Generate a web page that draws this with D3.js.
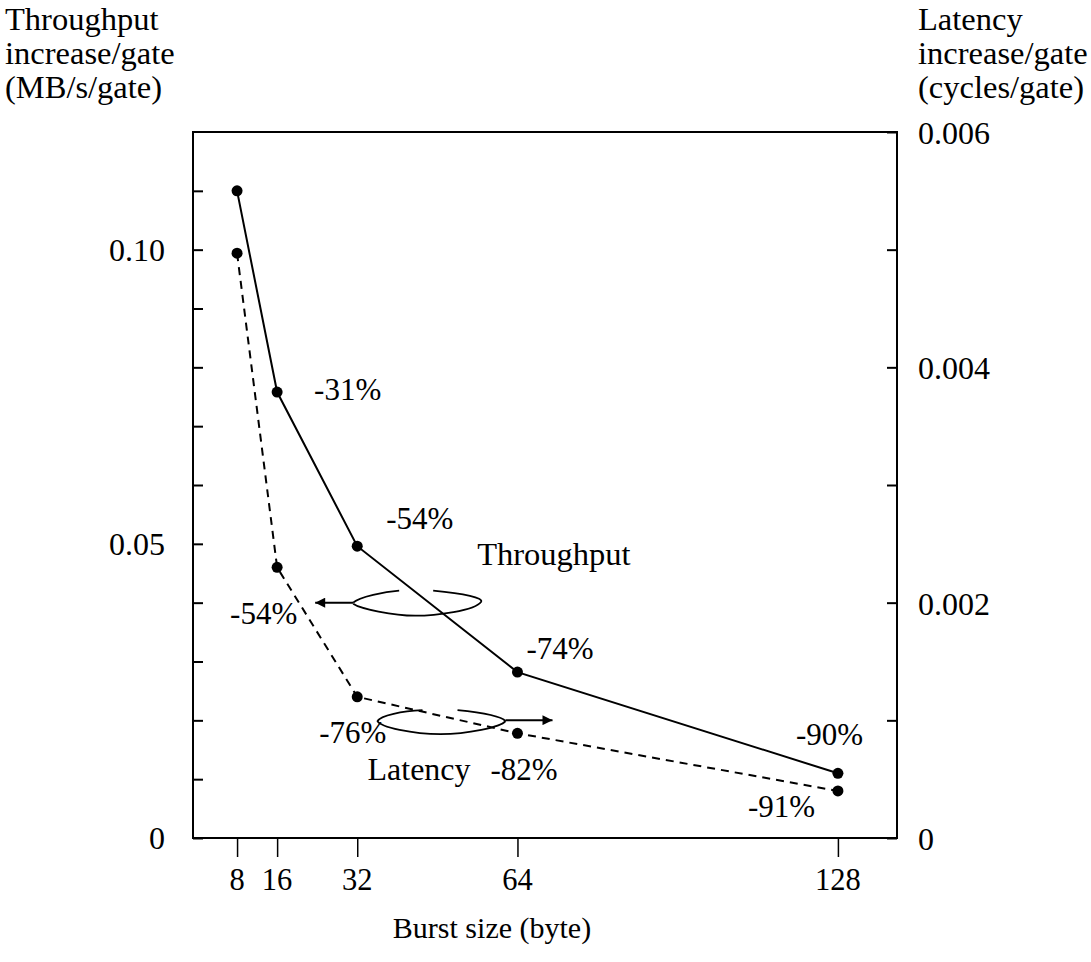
<!DOCTYPE html>
<html>
<head>
<meta charset="utf-8">
<script src="https://cdn.jsdelivr.net/npm/d3@7"></script>
<style>
  body { margin: 0; background: #fff; }
  svg { display: block; }
</style>
</head>
<body>
<svg id="chart" width="1091" height="962"></svg>
<script>
// data
var burstSizes = [8, 16, 32, 64, 128];
var throughput = [0.110, 0.0758, 0.0496, 0.0282, 0.0110];   // MB/s/gate (left)
var latency = [0.00497, 0.0023, 0.0012, 0.00089, 0.0004];    // cycles/gate (right)
var throughputPct = ['', '-31%', '-54%', '-74%', '-90%'];
var latencyPct = ['', '-54%', '-76%', '-82%', '-91%'];
var leftTicks = [0, 0.01, 0.02, 0.03, 0.04, 0.05, 0.06, 0.07, 0.08, 0.09, 0.10, 0.11];
var leftLabels = [0, 0.05, 0.10];
var rightTicks = [0, 0.001, 0.002, 0.003, 0.004, 0.005, 0.006];
var rightLabels = [0, 0.002, 0.004, 0.006];

var box = {left: 193, right: 897, top: 132, bottom: 838};
var font = '"Liberation Serif", "Times New Roman", Times, serif';

var x = d3.scaleLinear().domain([-0.8, 139.8]).range([box.left, box.right]);
var yL = d3.scaleLinear().domain([0, 0.12]).range([box.bottom, box.top]);
var yR = d3.scaleLinear().domain([0, 0.006]).range([box.bottom, box.top]);

var svg = d3.select('#chart');

function label(parent, xPos, yPos, s, size) {
    return parent.append('text')
        .attr('x', xPos).attr('y', yPos)
        .style('font-family', font)
        .style('font-size', (size || 32) + 'px')
        .attr('fill', '#000')
        .text(s);
}

// frame
svg.append('rect')
    .attr('x', box.left).attr('y', box.top)
    .attr('width', box.right - box.left).attr('height', box.bottom - box.top)
    .attr('fill', 'none').attr('stroke', '#000').attr('stroke-width', 2);

// left axis (ticks inside)
svg.append('g')
    .attr('transform', 'translate(' + box.left + ',0)')
    .call(d3.axisRight(yL).tickValues(leftTicks).tickSize(10).tickFormat(''))
    .call(g => g.select('.domain').remove())
    .selectAll('line').attr('stroke-width', 2);
leftLabels.forEach(d => label(svg, 165, yL(d) + 11, d === 0 ? '0' : d3.format('.2f')(d)).attr('text-anchor', 'end'));

// right axis (ticks inside)
svg.append('g')
    .attr('transform', 'translate(' + box.right + ',0)')
    .call(d3.axisLeft(yR).tickValues(rightTicks).tickSize(10).tickFormat(''))
    .call(g => g.select('.domain').remove())
    .selectAll('line').attr('stroke-width', 2);
rightLabels.forEach(d => label(svg, 918, yR(d) + 12, d === 0 ? '0' : d3.format('.3f')(d)));

// bottom axis (ticks outside)
svg.append('g')
    .attr('transform', 'translate(0,' + box.bottom + ')')
    .call(d3.axisBottom(x).tickValues(burstSizes).tickSize(19).tickFormat(''))
    .call(g => g.select('.domain').remove())
    .selectAll('line').attr('stroke-width', 1.5);
burstSizes.forEach(d => label(svg, x(d), 890, d, 30.5).attr('text-anchor', 'middle'));

// axis titles
function multiline(xPos, lines) {
    lines.forEach((s, i) => label(svg, xPos, 29.5 + i * 34, s, 32.5));
}
multiline(5, ['Throughput', 'increase/gate', '(MB/s/gate)']);
multiline(918, ['Latency', 'increase/gate', '(cycles/gate)']);
label(svg, 492, 938, 'Burst size (byte)', 30).attr('text-anchor', 'middle');

// series
var tData = burstSizes.map((b, i) => ({b: b, v: throughput[i], pct: throughputPct[i]}));
var lData = burstSizes.map((b, i) => ({b: b, v: latency[i], pct: latencyPct[i]}));

svg.append('path')
    .datum(tData)
    .attr('fill', 'none').attr('stroke', '#000').attr('stroke-width', 2)
    .attr('d', d3.line().x(d => x(d.b)).y(d => yL(d.v)));
svg.append('path')
    .datum(lData)
    .attr('fill', 'none').attr('stroke', '#000').attr('stroke-width', 2)
    .attr('stroke-dasharray', '8,6')
    .attr('d', d3.line().x(d => x(d.b)).y(d => yR(d.v)));

svg.append('g').selectAll('circle')
    .data(tData).enter()
    .append('circle')
        .attr('cx', d => x(d.b)).attr('cy', d => yL(d.v)).attr('r', 5.5);
svg.append('g').selectAll('circle')
    .data(lData).enter()
    .append('circle')
        .attr('cx', d => x(d.b)).attr('cy', d => yR(d.v)).attr('r', 5.5);

// percentage labels, offsets from each point
var tOff = [null, [37, 8], [29, -17], [9, -13], [-42, -28]];
var lOff = [null, [-47, 57], [-38, 46], [-27, 47], [-90, 26]];
tData.slice(1).forEach((d, i) => label(svg, x(d.b) + tOff[i + 1][0], yL(d.v) + tOff[i + 1][1], d.pct, 31));
lData.slice(1).forEach((d, i) => label(svg, x(d.b) + lOff[i + 1][0], yR(d.v) + lOff[i + 1][1], d.pct, 31));

// arrow head
svg.append('defs').append('marker')
    .attr('id', 'head')
    .attr('viewBox', '0 0 10 10')
    .attr('refX', 10).attr('refY', 5)
    .attr('markerWidth', 12).attr('markerHeight', 10)
    .attr('markerUnits', 'userSpaceOnUse')
    .attr('orient', 'auto')
    .append('path').attr('d', 'M0,0L10,5L0,10Z');

// "Throughput" loop pointing to the left axis
var ta = [x(23.6), yL(0.040)];
svg.append('path')
    .attr('fill', 'none').attr('stroke', '#000').attr('stroke-width', 2)
    .attr('marker-end', 'url(#head)')
    .attr('d', 'M' + (ta[0] + 38) + ',' + ta[1] + 'L' + ta[0] + ',' + ta[1]);
svg.append('path')
    .attr('fill', 'none').attr('stroke', '#000').attr('stroke-width', 1.8)
    .attr('d', 'M' + (ta[0] + 38) + ',' + ta[1] +
        'C' + (ta[0] + 44) + ',' + (ta[1] - 6) + ' ' + (ta[0] + 70) + ',' + (ta[1] - 11) + ' ' + (ta[0] + 84) + ',' + (ta[1] - 12));
svg.append('path')
    .attr('fill', 'none').attr('stroke', '#000').attr('stroke-width', 1.8)
    .attr('d', 'M' + (ta[0] + 118) + ',' + (ta[1] - 12) +
        'C' + (ta[0] + 150) + ',' + (ta[1] - 9) + ' ' + (ta[0] + 168) + ',' + (ta[1] - 5) + ' ' + (ta[0] + 166) + ',' + (ta[1] - 1) +
        'C' + (ta[0] + 160) + ',' + (ta[1] + 8) + ' ' + (ta[0] + 120) + ',' + (ta[1] + 13) + ' ' + (ta[0] + 100) + ',' + (ta[1] + 13) +
        'C' + (ta[0] + 78) + ',' + (ta[1] + 13) + ' ' + (ta[0] + 45) + ',' + (ta[1] + 6) + ' ' + (ta[0] + 38) + ',' + (ta[1] + 1));
label(svg, ta[0] + 162, ta[1] - 38, 'Throughput', 32.5);

// "Latency" loop pointing to the right axis
var la = [x(71), yR(0.00101)];
svg.append('path')
    .attr('fill', 'none').attr('stroke', '#000').attr('stroke-width', 2)
    .attr('marker-end', 'url(#head)')
    .attr('d', 'M' + (la[0] - 47) + ',' + (la[1] + 1) + 'L' + la[0] + ',' + (la[1] + 1));
svg.append('path')
    .attr('fill', 'none').attr('stroke', '#000').attr('stroke-width', 1.8)
    .attr('d', 'M' + (la[0] - 47) + ',' + (la[1] + 2) +
        'C' + (la[0] - 52) + ',' + (la[1] + 8) + ' ' + (la[0] - 85) + ',' + (la[1] + 15) + ' ' + (la[0] - 112) + ',' + (la[1] + 15) +
        'C' + (la[0] - 140) + ',' + (la[1] + 15) + ' ' + (la[0] - 172) + ',' + (la[1] + 8) + ' ' + (la[0] - 175) + ',' + (la[1] + 2) +
        'C' + (la[0] - 172) + ',' + (la[1] - 4) + ' ' + (la[0] - 150) + ',' + (la[1] - 8) + ' ' + (la[0] - 130) + ',' + (la[1] - 9));
svg.append('path')
    .attr('fill', 'none').attr('stroke', '#000').attr('stroke-width', 1.8)
    .attr('d', 'M' + (la[0] - 95) + ',' + (la[1] - 9) +
        'C' + (la[0] - 75) + ',' + (la[1] - 7) + ' ' + (la[0] - 52) + ',' + (la[1] - 4) + ' ' + (la[0] - 47) + ',' + (la[1] + 2));
label(svg, la[0] - 185, la[1] + 61, 'Latency', 32);
</script>
</body>
</html>
